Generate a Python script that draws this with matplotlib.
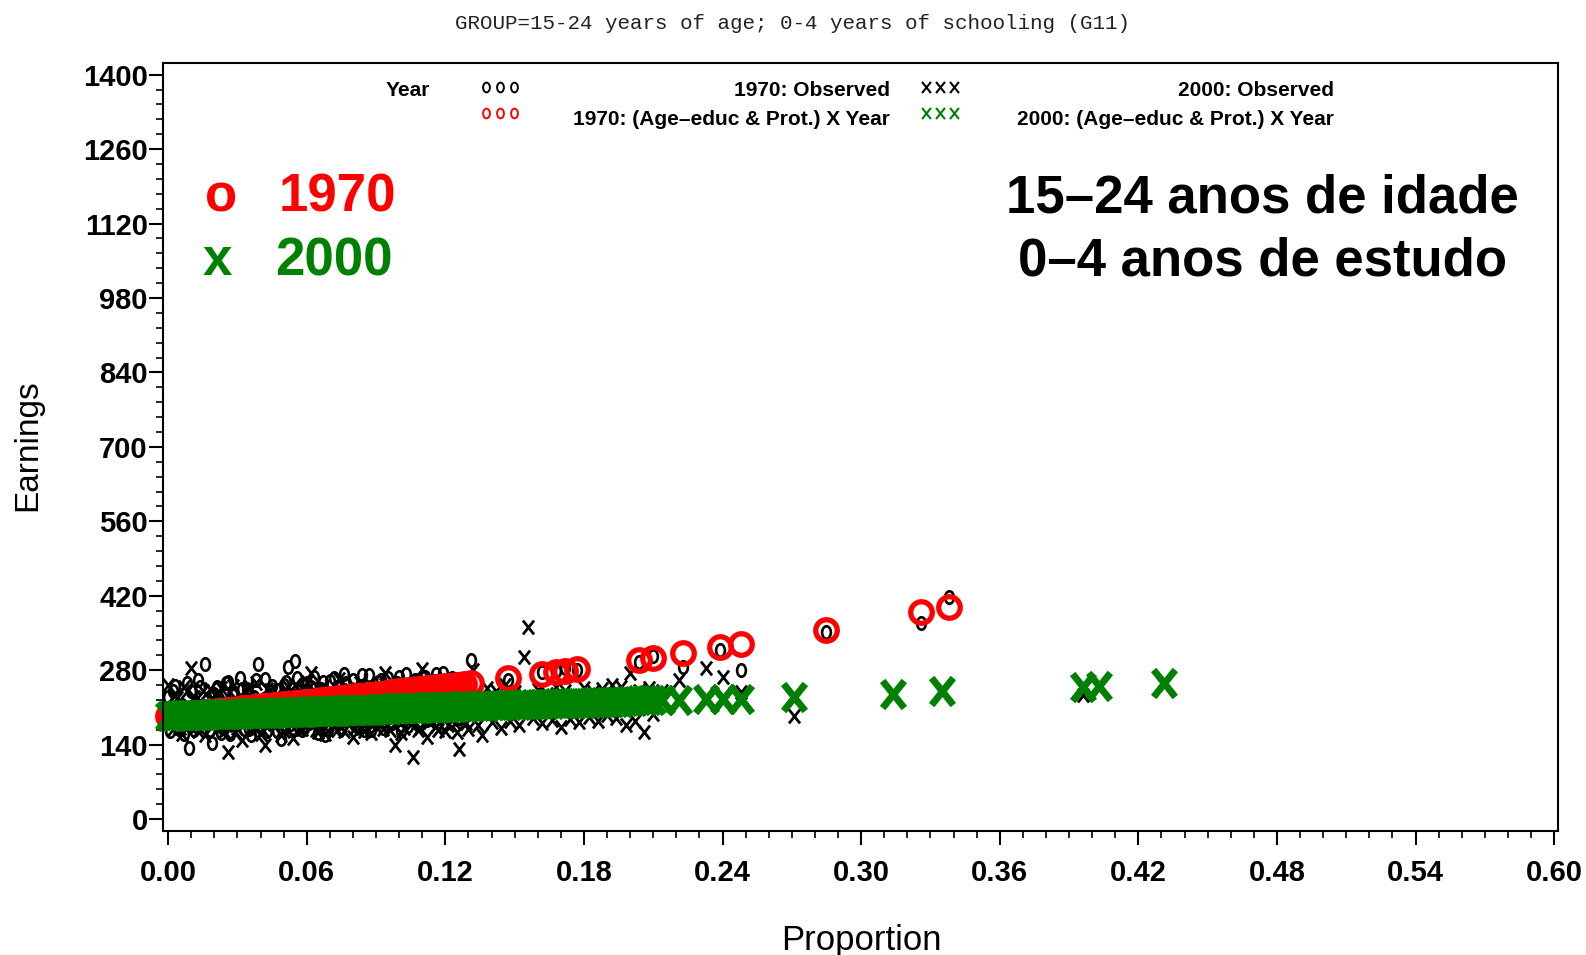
import matplotlib
matplotlib.use('Agg')
import matplotlib.pyplot as plt
from matplotlib.path import Path
from matplotlib.ticker import MultipleLocator

plt.rcParams['font.family'] = ['Liberation Sans', 'DejaVu Sans']

# Grupos de 1970: proporção, rendimento observado e rendimento ajustado
prop_1970 = [0.000, 0.001, 0.003, 0.004, 0.006, 0.007, 0.009, 0.010, 0.012, 0.013,
             0.015, 0.016, 0.018, 0.019, 0.021, 0.022, 0.024, 0.025, 0.027, 0.028,
             0.030, 0.031, 0.033, 0.034, 0.036, 0.037, 0.039, 0.040, 0.042, 0.043,
             0.045, 0.046, 0.048, 0.049, 0.051, 0.052, 0.054, 0.055, 0.057, 0.058,
             0.060, 0.061, 0.063, 0.065, 0.066, 0.068, 0.070, 0.071, 0.073, 0.075,
             0.076, 0.078, 0.080, 0.082, 0.083, 0.085, 0.087, 0.089, 0.091, 0.093,
             0.095, 0.097, 0.099, 0.101, 0.103, 0.105, 0.107, 0.109, 0.111, 0.113,
             0.115, 0.117, 0.119, 0.121, 0.123, 0.125, 0.128, 0.131,
             0.147, 0.162, 0.168, 0.172, 0.177, 0.204, 0.210, 0.223, 0.239, 0.248,
             0.285, 0.326, 0.338,
             0.002, 0.005, 0.008, 0.011, 0.014, 0.017, 0.020, 0.023, 0.026, 0.029,
             0.032, 0.035, 0.038, 0.041, 0.044, 0.047, 0.050, 0.053, 0.056, 0.059,
             0.062, 0.064, 0.067, 0.069, 0.072, 0.074, 0.077, 0.081, 0.084, 0.088,
             0.092, 0.096, 0.100, 0.104, 0.108, 0.112, 0.116, 0.120, 0.124, 0.126]
obs_1970 = [230, 165, 250, 178, 215, 160, 133, 240, 175, 262,
            185, 291, 168, 143, 248, 225, 172, 255, 160, 238,
            183, 266, 170, 245, 158, 230, 291, 176, 263, 165,
            250, 185, 242, 150, 258, 286, 172, 297, 240, 168,
            255, 180, 268, 162, 245, 158, 260, 185, 248, 170,
            272, 190, 262, 175, 250, 168, 270, 185, 258, 172,
            266, 180, 255, 165, 272, 190, 262, 178, 268, 195,
            260, 182, 275, 200, 266, 188, 258, 299,
            262, 276, 279, 284, 281, 296, 306, 286, 318, 281,
            352, 368, 418,
            240, 172, 255, 168, 248, 180, 236, 162, 258, 176,
            244, 170, 262, 182, 240, 166, 252, 178, 265, 172,
            248, 185, 258, 170, 266, 180, 255, 176, 270, 168,
            262, 184, 268, 175, 260, 186, 272, 178, 264, 190]
fit_1970 = [194, 194, 195, 196, 196, 197, 198, 198, 199, 199,
            200, 201, 201, 202, 203, 203, 204, 205, 205, 206,
            207, 207, 208, 208, 209, 210, 210, 211, 212, 212,
            213, 214, 214, 215, 216, 216, 217, 218, 218, 219,
            220, 221, 221, 222, 223, 224, 225, 225, 226, 227,
            228, 229, 230, 231, 232, 232, 233, 234, 235, 236,
            237, 238, 239, 240, 241, 242, 243, 244, 245, 246,
            247, 248, 249, 250, 251, 252, 254, 256,
            265, 273, 277, 279, 282, 299, 303, 312, 323, 329,
            356, 389, 399,
            195, 196, 197, 199, 200, 201, 202, 204, 205, 206,
            208, 209, 210, 212, 213, 214, 216, 217, 218, 220,
            221, 222, 223, 224, 226, 227, 228, 231, 232, 234,
            236, 238, 240, 242, 244, 246, 248, 250, 251, 253]

# Grupos de 2000
prop_2000 = [0.000, 0.002, 0.004, 0.006, 0.008, 0.010, 0.012, 0.014, 0.016, 0.018,
             0.020, 0.022, 0.024, 0.026, 0.028, 0.030, 0.032, 0.034, 0.036, 0.038,
             0.040, 0.042, 0.044, 0.046, 0.048, 0.050, 0.052, 0.054, 0.056, 0.058,
             0.060, 0.062, 0.064, 0.066, 0.068, 0.070, 0.072, 0.074, 0.076, 0.078,
             0.080, 0.082, 0.084, 0.086, 0.088, 0.090, 0.092, 0.094, 0.096, 0.098,
             0.100, 0.102, 0.104, 0.106, 0.108, 0.110, 0.112, 0.114, 0.116, 0.118,
             0.120, 0.122, 0.124, 0.126, 0.128, 0.130, 0.132, 0.134, 0.136, 0.138,
             0.140, 0.142, 0.144, 0.146, 0.148, 0.150, 0.152, 0.154, 0.156, 0.158,
             0.160, 0.162, 0.164, 0.166, 0.168, 0.170, 0.172, 0.174, 0.176, 0.178,
             0.180, 0.182, 0.184, 0.186, 0.188, 0.190, 0.192, 0.194, 0.196, 0.198,
             0.200, 0.202, 0.204, 0.206, 0.208, 0.210,
             0.214, 0.221, 0.233, 0.240, 0.248, 0.271, 0.314, 0.335, 0.396, 0.403,
             0.431,
             0.001, 0.003, 0.005, 0.007, 0.009, 0.011, 0.013, 0.015, 0.017, 0.019,
             0.021, 0.023, 0.025, 0.027, 0.029, 0.031, 0.033, 0.035, 0.037, 0.039,
             0.041, 0.043, 0.045, 0.047, 0.049, 0.051, 0.053, 0.055, 0.057, 0.059,
             0.061, 0.063, 0.065, 0.067, 0.069, 0.071, 0.073, 0.075, 0.077, 0.079,
             0.081, 0.083, 0.085, 0.087, 0.089, 0.091, 0.093, 0.095, 0.097, 0.099,
             0.101, 0.103, 0.105, 0.107, 0.109, 0.111, 0.113, 0.115, 0.117, 0.119,
             0.121, 0.123, 0.125, 0.127, 0.129]
obs_2000 = [252, 170, 228, 160, 240, 284, 175, 222, 158, 245,
            180, 235, 165, 126, 250, 172, 148, 238, 168, 255,
            160, 139, 242, 178, 230, 165, 248, 152, 236, 170,
            258, 275, 168, 240, 160, 232, 175, 263, 165, 245,
            154, 238, 172, 250, 162, 242, 178, 275, 168, 139,
            236, 172, 252, 117, 168, 282, 154, 245, 175, 238,
            165, 255, 180, 132, 248, 170, 280, 176, 158, 246,
            182, 240, 172, 252, 185, 238, 176, 305, 361, 190,
            242, 180, 236, 186, 248, 173, 240, 188, 232, 182,
            246, 192, 238, 185, 244, 195, 252, 190, 248, 177,
            275, 185, 240, 164, 246, 198,
            240, 262, 284, 268, 238, 194, 238, 244, 234, 252,
            256,
            182, 236, 172, 248, 178, 230, 166, 240, 185, 228,
            170, 246, 176, 238, 162, 232, 180, 250, 174, 226,
            168, 244, 183, 236, 158, 230, 177, 252, 170, 240,
            182, 226, 164, 248, 178, 236, 168, 242, 184, 230,
            172, 255, 166, 238, 180, 246, 170, 232, 186, 250,
            162, 240, 178, 256, 172, 234, 182, 244, 168, 238,
            176, 250, 164, 242, 180]
fit_2000 = [194, 194, 195, 195, 195, 195, 196, 196, 196, 197,
            197, 197, 197, 198, 198, 198, 198, 199, 199, 199,
            200, 200, 200, 200, 201, 201, 201, 202, 202, 202,
            202, 203, 203, 203, 204, 204, 204, 204, 205, 205,
            205, 205, 206, 206, 206, 207, 207, 207, 207, 208,
            208, 208, 209, 209, 209, 209, 210, 210, 210, 211,
            211, 211, 211, 212, 212, 212, 212, 213, 213, 213,
            214, 214, 214, 214, 215, 215, 215, 216, 216, 216,
            216, 217, 217, 217, 218, 218, 218, 218, 219, 219,
            219, 219, 220, 220, 220, 221, 221, 221, 221, 222,
            222, 222, 223, 223, 223, 223,
            224, 224, 225, 226, 226, 229, 236, 240, 249, 251,
            255,
            194, 194, 195, 195, 195, 196, 196, 196, 196, 197,
            197, 197, 198, 198, 198, 198, 199, 199, 199, 199,
            200, 200, 200, 201, 201, 201, 201, 202, 202, 202,
            203, 203, 203, 203, 204, 204, 204, 205, 205, 205,
            205, 206, 206, 206, 206, 207, 207, 207, 208, 208,
            208, 208, 209, 209, 209, 210, 210, 210, 210, 211,
            211, 211, 211, 212, 212]

x_ticks = [0.00, 0.06, 0.12, 0.18, 0.24, 0.30, 0.36, 0.42, 0.48, 0.54, 0.60]
y_ticks = [0, 140, 280, 420, 560, 700, 840, 980, 1120, 1260, 1400]

GREEN = '#008000'

# marcadores: oval pequeno, "x" em forma de letra
circ = Path.unit_circle()
oval = Path(circ.vertices * [0.7, 1.0], circ.codes)
cross = Path([(-0.8, -1), (0.8, 1), (-0.8, 1), (0.8, -1)],
             [Path.MOVETO, Path.LINETO, Path.MOVETO, Path.LINETO])

fig = plt.figure(figsize=(15.86, 9.55), dpi=100)
ax = fig.add_axes([0.1028, 0.1298, 0.8796, 0.8042])

ax.plot(prop_1970, obs_1970, ls='none', marker=oval, ms=9, mew=1.9,
        mec='black', mfc='none')
ax.plot(prop_2000, obs_2000, ls='none', marker=cross, ms=10, mew=2.0,
        mec='black', mfc='none')
ax.plot(prop_1970, fit_1970, ls='none', marker='o', ms=15.5, mew=3.8,
        mec='red', mfc='none', clip_on=False)
ax.plot(prop_2000, fit_2000, ls='none', marker=cross, ms=19.5, mew=5.0,
        mec=GREEN, mfc='none', clip_on=False)

ax.set_xlim(-0.0022, 0.6017)
ax.set_ylim(-22.6, 1422)
ax.set_xticks(x_ticks)
ax.set_xticklabels([f'{v:.2f}' for v in x_ticks])
ax.set_yticks(y_ticks)
ax.xaxis.set_minor_locator(MultipleLocator(0.01))
ax.yaxis.set_minor_locator(MultipleLocator(28))
ax.tick_params(which='major', direction='out', length=10, width=1.5, labelsize=21)
ax.tick_params(which='minor', direction='out', length=5, width=1.2)
ax.tick_params(axis='x', which='major', pad=10)
ax.tick_params(axis='y', which='major', pad=1)
for lab in ax.get_xticklabels() + ax.get_yticklabels():
    lab.set_fontweight('bold')
for sp in ax.spines.values():
    sp.set_linewidth(1.5)

fig.text(0.0177, 0.534, 'Earnings', rotation=90, ha='center', va='center', fontsize=24)
fig.text(0.543, 0.015, 'Proportion', ha='center', va='center', fontsize=25)
fig.text(0.4994, 0.975, 'GROUP=15-24 years of age; 0-4 years of schooling (G11)',
         ha='center', va='center', fontsize=15, family='Liberation Mono', color='#222222')

# legenda do procedimento
W, H = 1586.0, 955.0
def fx(px):
    return px / W
def fy(py):
    return 1 - py / H

fig.text(fx(386), fy(90), 'Year', ha='left', va='center', fontsize=15, fontweight='bold')
fig.text(fx(890), fy(90), '1970: Observed', ha='right', va='center', fontsize=15, fontweight='bold')
fig.text(fx(1334), fy(90), '2000: Observed', ha='right', va='center', fontsize=15, fontweight='bold')
fig.text(fx(890), fy(119), '1970: (Age\u2013educ & Prot.) X Year', ha='right', va='center',
         fontsize=15, fontweight='bold')
fig.text(fx(1334), fy(119), '2000: (Age\u2013educ & Prot.) X Year', ha='right', va='center',
         fontsize=15, fontweight='bold')

sym_o = [fx(486), fx(500), fx(514)]
sym_x = [fx(926), fx(940), fx(954)]
ax.plot(sym_o, [fy(87)] * 3, ls='none', marker=oval, ms=7, mew=1.4, mec='black',
        mfc='none', transform=fig.transFigure, clip_on=False)
ax.plot(sym_x, [fy(87)] * 3, ls='none', marker=cross, ms=8, mew=1.5, mec='black',
        mfc='none', transform=fig.transFigure, clip_on=False)
ax.plot(sym_o, [fy(113)] * 3, ls='none', marker=oval, ms=7, mew=1.4, mec='red',
        mfc='none', transform=fig.transFigure, clip_on=False)
ax.plot(sym_x, [fy(113)] * 3, ls='none', marker=cross, ms=8, mew=1.5, mec=GREEN,
        mfc='none', transform=fig.transFigure, clip_on=False)

# anotações
fig.text(fx(205), fy(197), 'o', color='red', fontsize=38, fontweight='bold', ha='left', va='center')
fig.text(fx(279), fy(197), '1970', color='red', fontsize=38, fontweight='bold', ha='left', va='center')
fig.text(fx(203), fy(261), 'x', color=GREEN, fontsize=38, fontweight='bold', ha='left', va='center')
fig.text(fx(275), fy(261), '2000', color=GREEN, fontsize=38, fontweight='bold', ha='left', va='center')
fig.text(fx(1262), fy(198), '15\u201324 anos de idade', fontsize=38, fontweight='bold',
         ha='center', va='center')
fig.text(fx(1263), fy(261), '0\u20134 anos de estudo', fontsize=38, fontweight='bold',
         ha='center', va='center')

fig.savefig('out.png', dpi=100)
